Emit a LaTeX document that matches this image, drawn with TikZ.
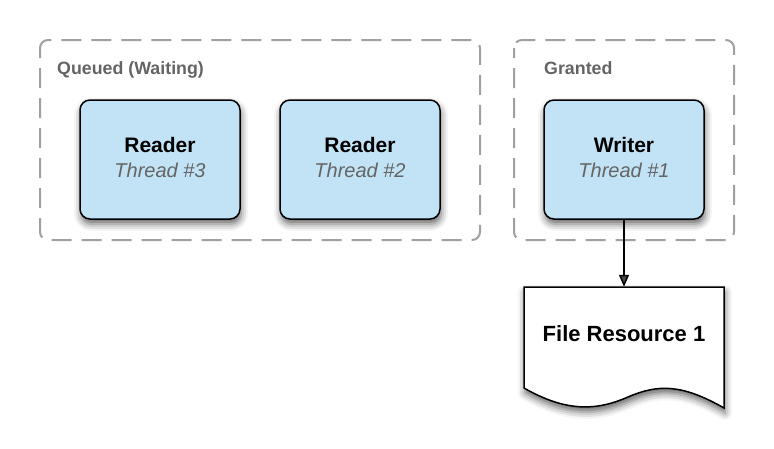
\documentclass[tikz,border=0pt]{standalone}
\usepackage{fontspec}
\setmainfont{Liberation Sans}
\usetikzlibrary{arrows.meta}
\usetikzlibrary{shadows.blur}

\definecolor{threadblue}{RGB}{194,227,245}
\definecolor{groupgray}{RGB}{160,160,160}
\definecolor{labelgray}{RGB}{100,100,100}

\begin{document}
\begin{tikzpicture}[x=1pt,y=-1pt,
    groupbox/.style={draw=groupgray, line width=2pt, dash pattern=on 20pt off 10pt, dash phase=10pt, rounded corners=8pt},
    grouplabel/.style={anchor=base west, inner sep=0pt, text=labelgray, font=\fontsize{17.8}{20}\selectfont\bfseries},
    softshadow/.style={blur shadow={shadow xshift=1pt, shadow yshift=-5pt, shadow blur radius=7pt, shadow opacity=60}},
    thread/.style={draw, line width=1.5pt, fill=threadblue, rounded corners=10pt, minimum width=160pt, minimum height=119pt, align=center, font=\fontsize{20}{25}\selectfont, softshadow},
    flow/.style={line width=1.5pt, -{Triangle[length=12pt,width=10pt]}}]

    \useasboundingbox (0,0) rectangle (774,448);

    % group boxes
    \draw[groupbox] (40,40) rectangle (480,240);
    \draw[groupbox] (514,40) rectangle (734,240);
    \node[grouplabel] (queued) at (57,74) {Queued (Waiting)};
    \node[grouplabel] (granted) at (544,74) {Granted};

    % threads
    \foreach \n/\x in {3/160,2/360}
      \node[thread] (reader\n) at (\x,159.5) {{\fontsize{21}{25}\selectfont\bfseries Reader}\\\textit{\color{labelgray}Thread \#\n}\rule[-5pt]{0pt}{5pt}};
    \node[thread] (writer) at (624,159.5) {{\fontsize{21}{25}\selectfont\bfseries Writer}\\\textit{\color{labelgray}Thread \#1}\rule[-5pt]{0pt}{5pt}};

    % document shape
    \draw[line width=1.5pt, fill=white, softshadow] (524,287) -- (724,287) -- (724,408)
      .. controls (682,384) and (658,384) .. (628,397)
      .. controls (596,411) and (566,412) .. (524,388) -- cycle;
    \node[minimum width=200pt, minimum height=94pt, font=\fontsize{22}{26}\selectfont\bfseries] (resource) at (624,334) {File Resource 1};

    % arrow
    \draw[flow] (writer) -- (resource);
\end{tikzpicture}
\end{document}
